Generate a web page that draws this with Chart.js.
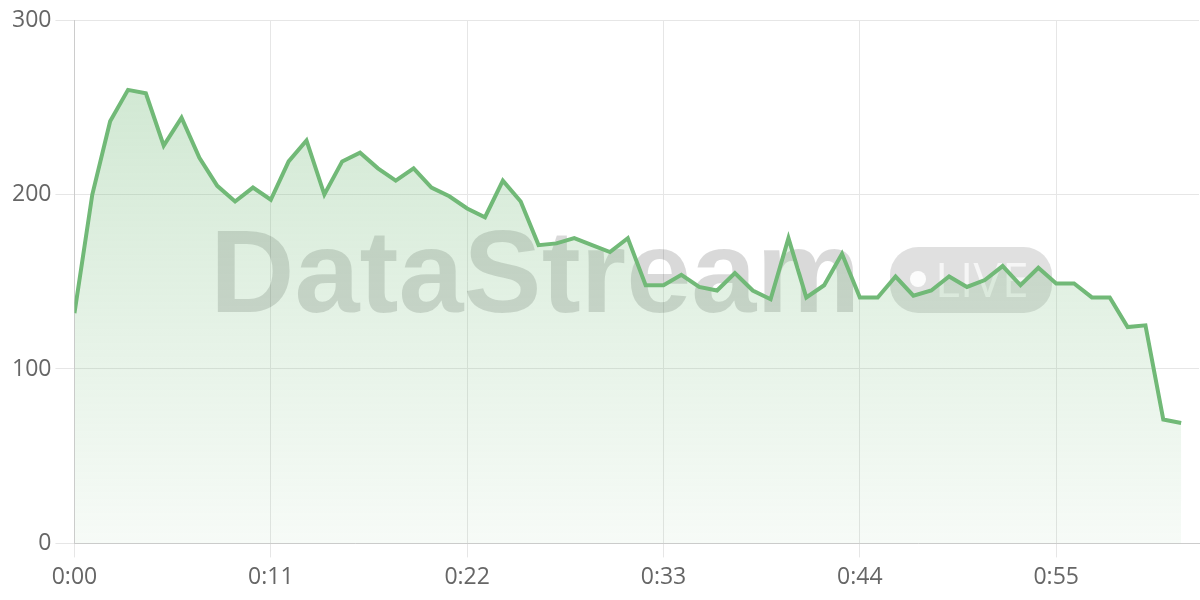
<!DOCTYPE html>
<html>
<head>
<meta charset="utf-8">
<script src="https://cdn.jsdelivr.net/npm/chart.js@4/dist/chart.umd.min.js"></script>
<style>
  html, body { margin: 0; padding: 0; background: #fff; }
  #wrap { width: 1200px; height: 600px; }
</style>
</head>
<body>
<div id="wrap"><canvas id="streamChart"></canvas></div>
<script>
// seconds since start
const seconds = [0, 1, 2, 3, 4, 5, 6, 7, 8, 9, 10, 11, 12, 13, 14, 15, 16, 17, 18, 19, 20,
    21, 22, 23, 24, 25, 26, 27, 28, 29, 30, 31, 32, 33, 34, 35, 36, 37, 38, 39, 40, 41,
    42, 43, 44, 45, 46, 47, 48, 49, 50, 51, 52, 53, 54, 55, 56, 57, 58, 59, 60, 61, 62];
const viewers = [132, 200, 242, 260, 258, 228, 244, 221, 205, 196, 204, 197, 219, 231, 200,
    219, 224, 215, 208, 215, 204, 199, 192, 187, 208, 196, 171, 172, 175, 171, 167, 175,
    148, 148, 154, 147, 145, 155, 145, 140, 175, 141, 148, 166, 141, 141, 153, 142, 145,
    153, 147, 151, 159, 148, 158, 149, 149, 141, 141, 124, 125, 71, 69];
const yTicks = [0, 100, 200, 300];

const lineColor = 'rgb(113, 185, 119)';
const fontFamily = '"Open Sans", "Liberation Sans", sans-serif';

function fmtTime(v) {
    return Math.floor(v / 60) + ':' + String(v % 60).padStart(2, '0');
}

// watermark behind the line
const watermark = {
    id: 'watermark',
    beforeDatasetsDraw(chart) {
        const ctx = chart.ctx;
        ctx.save();
        ctx.fillStyle = 'rgba(0,0,0,0.15)';
        ctx.font = 'bold 117px "Liberation Sans", Arial, sans-serif';
        ctx.textBaseline = 'alphabetic';
        ctx.textAlign = 'left';
        ctx.fillText('DataStream', 210, 312);

        ctx.fillStyle = 'rgba(0,0,0,0.12)';
        ctx.beginPath();
        ctx.roundRect(890, 247, 162, 66, 28);
        ctx.fill();

        ctx.fillStyle = 'rgba(255,255,255,0.9)';
        ctx.beginPath();
        ctx.arc(918, 279, 8, 0, Math.PI * 2);
        ctx.fill();
        ctx.fillStyle = 'rgba(255,255,255,0.7)';
        ctx.font = '48px "Open Sans", "Liberation Sans", sans-serif';
        ctx.fillText('LIVE', 935, 297);
        ctx.restore();
    }
};

const ctx = document.getElementById('streamChart');
new Chart(ctx, {
    type: 'line',
    data: {
        datasets: [{
            data: seconds.map((s, i) => ({ x: s, y: viewers[i] })),
            borderColor: lineColor,
            borderWidth: 4,
            pointRadius: 0,
            tension: 0,
            fill: 'origin',
            backgroundColor(c) {
                const area = c.chart.chartArea;
                if (!area) return 'rgba(113,185,119,0.2)';
                const g = c.chart.ctx.createLinearGradient(0, area.top, 0, area.bottom);
                g.addColorStop(0, 'rgba(113,185,119,0.36)');
                g.addColorStop(1, 'rgba(113,185,119,0.06)');
                return g;
            }
        }]
    },
    options: {
        responsive: true,
        maintainAspectRatio: false,
        animation: false,
        layout: { padding: { top: 8, left: 8, right: 1, bottom: 3 } },
        plugins: {
            legend: { display: false },
            tooltip: { enabled: false }
        },
        scales: {
            x: {
                type: 'linear',
                min: 0,
                max: 63,
                grid: { color: '#e6e6e6', tickLength: 14 },
                border: { color: '#cccccc' },
                ticks: {
                    stepSize: 11,
                    includeBounds: false,
                    maxRotation: 0,
                    padding: 6,
                    color: '#666',
                    font: { family: fontFamily, size: 23 },
                    callback: v => fmtTime(v)
                }
            },
            y: {
                min: 0,
                max: 300,
                afterBuildTicks(scale) {
                    scale.ticks = yTicks.map(v => ({ value: v }));
                },
                grid: { color: '#e6e6e6', tickLength: 19 },
                border: { color: '#cccccc' },
                ticks: {
                    padding: 4,
                    color: '#666',
                    font: { family: fontFamily, size: 23, lineHeight: 1.4 }
                }
            }
        }
    },
    plugins: [watermark]
});
</script>
</body>
</html>
